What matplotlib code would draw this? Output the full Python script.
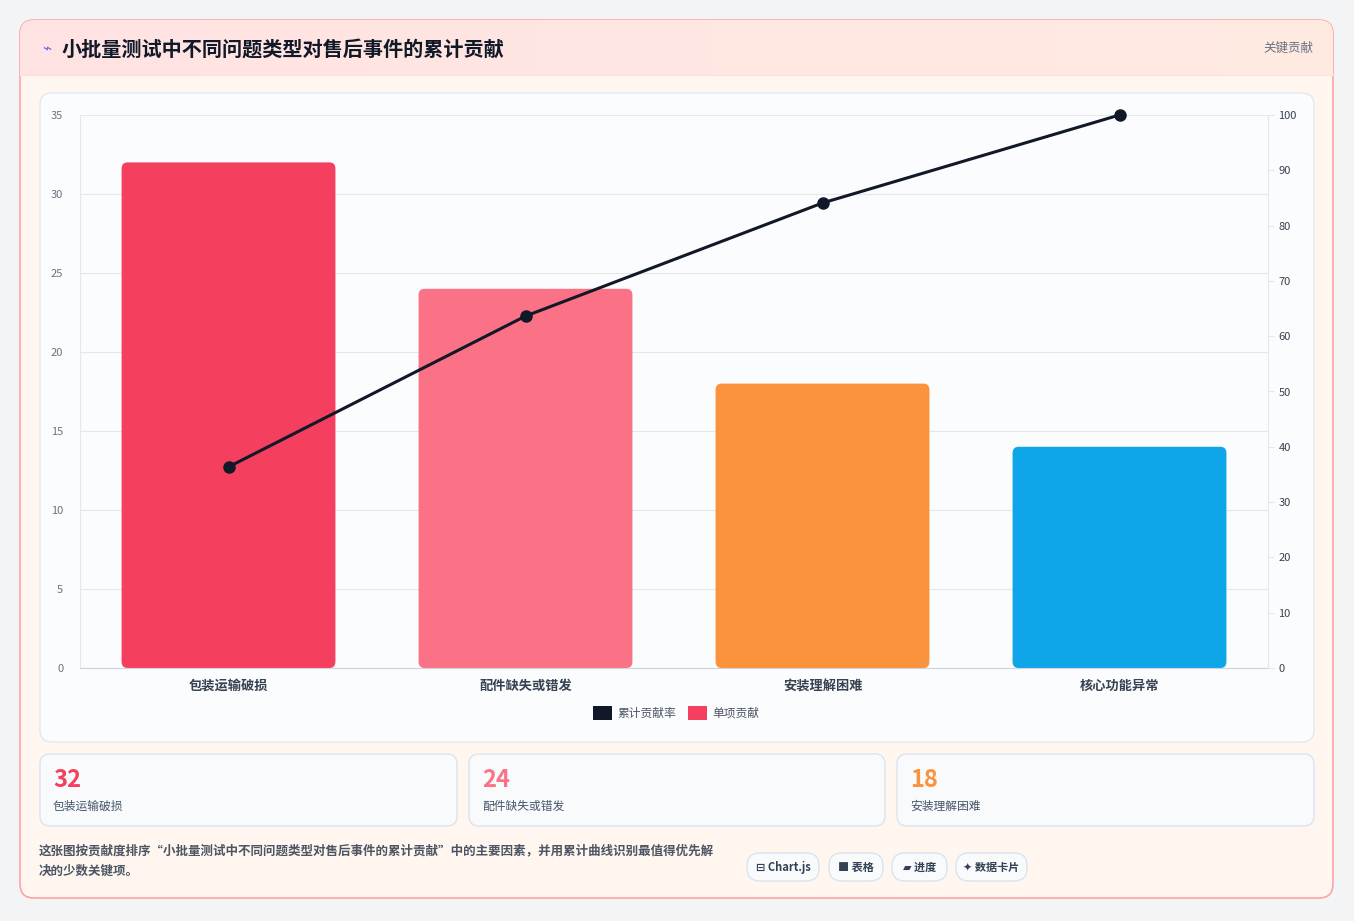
import matplotlib
matplotlib.use("Agg")
import matplotlib.pyplot as plt
import numpy as np
from matplotlib.patches import FancyBboxPatch, Rectangle

plt.rcParams["font.family"] = ["Noto Sans CJK SC", "DejaVu Sans"]

categories = ["包装运输破损", "配件缺失或错发", "安装理解困难", "核心功能异常"]
values = [32, 24, 18, 14]
bar_colors = ["#f43f5e", "#fb7185", "#fb923c", "#0ea5e9"]
cumulative = list(np.cumsum(values) / np.sum(values) * 100)
title = "小批量测试中不同问题类型对售后事件的累计贡献"
note = "这张图按贡献度排序“小批量测试中不同问题类型对售后事件的累计贡献”中的主要因素，并用累计曲线识别最值得优先解\n决的少数关键项。"
chips = ["⊟ Chart.js", "■ 表格", "▰ 进度", "✦ 数据卡片"]

W, H = 1354, 921
fig = plt.figure(figsize=(W / 100, H / 100), dpi=100)
fig.patch.set_facecolor("#f3f4f6")
bg = fig.add_axes([0, 0, 1, 1])
bg.set_xlim(0, W)
bg.set_ylim(H, 0)
bg.axis("off")


def rbox(x0, y0, x1, y1, r, fc, ec, lw=1, z=1):
    p = FancyBboxPatch((x0 + r, y0 + r), x1 - x0 - 2 * r, y1 - y0 - 2 * r,
                       boxstyle=f"round,pad={r}", fc=fc, ec=ec, lw=lw, zorder=z)
    bg.add_patch(p)
    return p


# outer card with soft gradient
card = rbox(20, 20, 1333, 898, 14, "#fff6ef", "#fca5a5", 1.2, 1)
grad = np.linspace(0, 1, 256).reshape(1, -1)
hdr = bg.imshow(np.dstack([np.ones_like(grad), 0.89 + 0.03 * grad, 0.89 + 0.0 * grad]),
                extent=(20, 1333, 75, 20), aspect="auto", zorder=2)
hdr.set_clip_path(card)
bg.plot([20, 1333], [75, 75], color="#fde2e2", lw=1, zorder=3)
bg.text(42, 49, "⌁", color="#6366f1", fontsize=11, va="center", zorder=4, family=["DejaVu Sans"])
bg.text(62, 49, title, fontsize=14.5, fontweight="bold", color="#111827", va="center", zorder=4)
bg.text(1313, 48, "关键贡献", fontsize=9, color="#6b7280", va="center", ha="right", zorder=4)

# chart panel
rbox(40, 93, 1314, 742, 12, "#fbfcfd", "#e2e8f0", 1, 2)

# stat cards
for i, (x0, x1) in enumerate([(40, 457), (469, 885), (897, 1314)]):
    rbox(x0, 754, x1, 826, 10, "#f8fafc", "#dbe4ef", 1, 2)
    bg.text(x0 + 13, 780, str(values[i]), fontsize=17, fontweight="bold", color=bar_colors[i], va="center", zorder=3)
    bg.text(x0 + 13, 806, categories[i], fontsize=8.5, color="#475569", va="center", zorder=3)

bg.text(39, 861, note, fontsize=9, color="#4b5563", va="center", linespacing=1.7, fontweight="bold", zorder=3)
cx = [747, 829, 892, 956]
cw = [72, 54, 55, 71]
for x, w, t in zip(cx, cw, chips):
    rbox(x, 853, x + w, 881, 13, "#f8fafc", "#dbe4ef", 1, 2)
    bg.text(x + w / 2, 867, t, fontsize=8, color="#334155", ha="center", va="center", fontweight="bold", zorder=3,
            family=["Noto Sans CJK SC", "DejaVu Sans"])

# main plot
ax = fig.add_axes([80 / W, 1 - 668 / H, (1268 - 80) / W, (668 - 115) / H])
ax.set_facecolor("none")
x = np.arange(len(categories))
for xi, v, c in zip(x, values, bar_colors):
    ax.add_patch(FancyBboxPatch((xi - 0.36, 0), 0.72, v, boxstyle="round,pad=0,rounding_size=0.02",
                                fc=c, ec="none", mutation_aspect=20, zorder=2))
ax.set_xlim(-0.5, 3.5)
ax.set_ylim(0, 35)
ax.set_yticks(range(0, 36, 5))
ax.set_xticks(x)
ax.set_xticklabels(categories, fontsize=9.5, color="#374151", fontweight="bold")
ax.tick_params(axis="y", labelsize=8, colors="#6b7280", length=0, pad=12)
ax.tick_params(axis="x", length=0, pad=8)
ax.grid(axis="y", color="#e5e7eb", lw=0.8, zorder=0)
for s in ["top", "right"]:
    ax.spines[s].set_visible(False)
ax.spines["left"].set_color("#e5e7eb")
ax.spines["bottom"].set_color("#d1d5db")

ax2 = ax.twinx()
ax2.plot(x, cumulative, color="#111827", lw=2.2, marker="o", ms=8, zorder=5, clip_on=False)
ax2.set_ylim(0, 100)
ax2.set_yticks(range(0, 101, 10))
ax2.tick_params(axis="y", labelsize=8, colors="#374151", length=4, color="#e5e7eb")
for s in ["top", "left", "bottom"]:
    ax2.spines[s].set_visible(False)
ax2.spines["right"].set_color("#e5e7eb")

# legend
bg.add_patch(Rectangle((593, 706), 19, 14, fc="#111827", zorder=3))
bg.text(617, 713, "累计贡献率", fontsize=8.5, color="#4b5563", va="center", zorder=3)
bg.add_patch(Rectangle((688, 706), 19, 14, fc="#f43f5e", zorder=3))
bg.text(712, 713, "单项贡献", fontsize=8.5, color="#4b5563", va="center", zorder=3)

fig.savefig("out.png", dpi=100, facecolor=fig.get_facecolor())
